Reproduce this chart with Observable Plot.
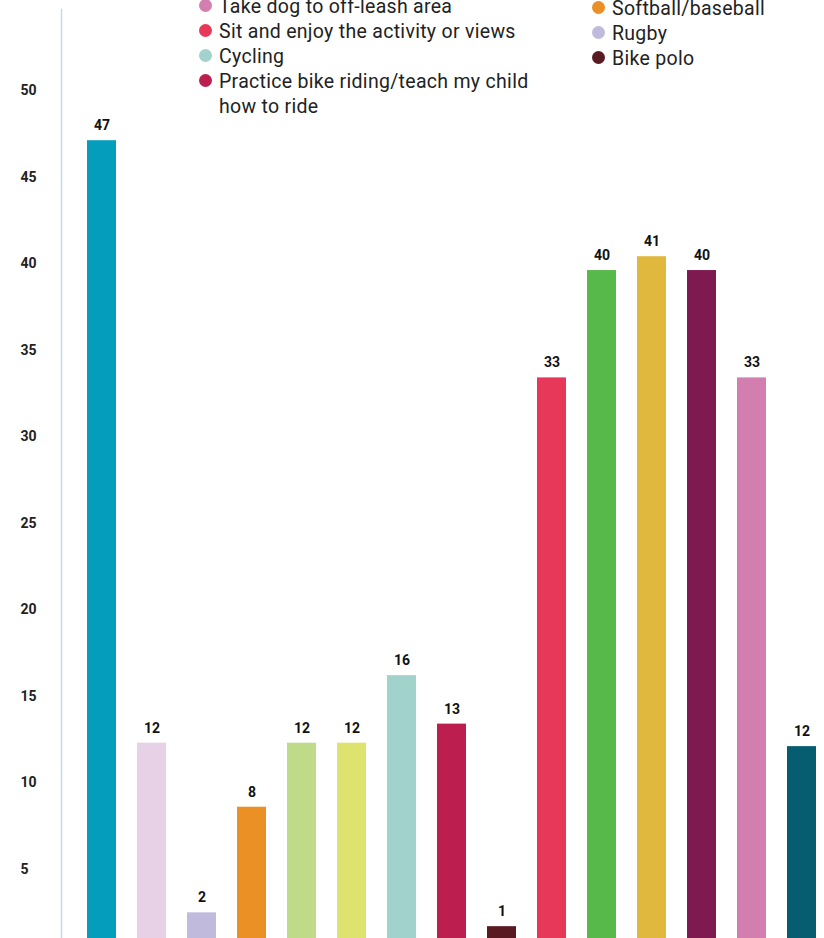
<!DOCTYPE html>
<html>
<head>
<meta charset="utf-8">
<script src="https://cdn.jsdelivr.net/npm/d3@7"></script>
<script src="https://cdn.jsdelivr.net/npm/@observablehq/plot@0.6"></script>
<style>
  html, body { margin: 0; padding: 0; background: #fff; overflow: hidden; }
  #wrap { position: relative; width: 824px; height: 938px; overflow: hidden; }
  #chart { position: absolute; left: 0; top: 0; }
  .legend-col { position: absolute; font-family: Roboto, "Noto Sans", sans-serif; font-size: 19.5px; letter-spacing: 0.3px; color: #222; }
  .item { position: relative; padding-left: 20px; line-height: 25px; }
  .dot { position: absolute; left: 0; top: 5px; width: 13px; height: 13px; border-radius: 50%; }
</style>
</head>
<body>
<div id="wrap">
  <div id="chart"></div>
</div>
<script>
// ---- data ----
const categories = ["Cat 1", "Cat 2", "Rugby", "Softball/baseball", "Cat 5", "Cat 6", "Cycling",
  "Practice bike riding/teach my child how to ride", "Bike polo", "Sit and enjoy the activity or views",
  "Cat 11", "Cat 12", "Cat 13", "Take dog to off-leash area", "Cat 15"];
const values = [47.1, 12.3, 2.5, 8.6, 12.3, 12.3, 16.2, 13.4, 1.7, 33.4, 39.6, 40.4, 39.6, 33.4, 12.1];
const labels = ["47", "12", "2", "8", "12", "12", "16", "13", "1", "33", "40", "41", "40", "33", "12"];
const colors = ["#049dbb", "#e6d1e7", "#c0bbdd", "#ea9024", "#bfdb8a", "#dde36e", "#a1d2cb", "#bd1e50",
  "#5a1a21", "#e8385a", "#58b94b", "#e0b83e", "#7e1a50", "#d27fb0", "#065d70"];
const yTicks = [5, 10, 15, 20, 25, 30, 35, 40, 45, 50];

const legendCol1 = ["Take dog to off-leash area", "Sit and enjoy the activity or views", "Cycling",
  "Practice bike riding/teach my child how to ride"];
const legendCol1Colors = ["#d27fb0", "#e8385a", "#a1d2cb", "#bd1e50"];
const legendCol2 = ["Softball/baseball", "Rugby", "Bike polo"];
const legendCol2Colors = ["#ea9024", "#c0bbdd", "#5a1a21"];

const data = categories.map((c, i) => ({cat: c, value: values[i], label: labels[i], color: colors[i]}));

const chart = Plot.plot({
  width: 824,
  height: 960,
  marginTop: 9,
  marginLeft: 61,
  marginRight: 0,
  marginBottom: 0,
  style: {fontFamily: "Roboto, sans-serif", background: "transparent"},
  x: {type: "band", domain: categories, range: [85, 818], paddingInner: 0.423, paddingOuter: 0, axis: null},
  y: {domain: [0, 50], range: [955.6, 90]},
  marks: [
    Plot.frame({anchor: "left", stroke: "#c6d9ea", strokeWidth: 1.5}),
    Plot.axisY({ticks: yTicks, tickSize: 0, tickPadding: 41, textAnchor: "start", fontWeight: "bold",
      fontSize: 14, fill: "#222", label: null}),
    Plot.barY(data, {x: "cat", y: "value", fill: "color"}),
    Plot.text(data, {x: "cat", y: "value", text: "label", dy: -15, fontWeight: "bold", fontSize: 14, fill: "#111"})
  ]
});
document.getElementById("chart").appendChild(chart);

function addLegend(names, cols, left, top, widthPx) {
  const col = document.createElement("div");
  col.className = "legend-col";
  col.style.left = left + "px";
  col.style.top = top + "px";
  col.style.width = widthPx + "px";
  names.forEach((n, i) => {
    const it = document.createElement("div");
    it.className = "item";
    const d = document.createElement("span");
    d.className = "dot";
    d.style.background = cols[i];
    it.appendChild(d);
    it.appendChild(document.createTextNode(n));
    col.appendChild(it);
  });
  document.getElementById("wrap").appendChild(col);
}
addLegend(legendCol1, legendCol1Colors, 199, -6, 345);
addLegend(legendCol2, legendCol2Colors, 592, -4, 230);
</script>
</body>
</html>
